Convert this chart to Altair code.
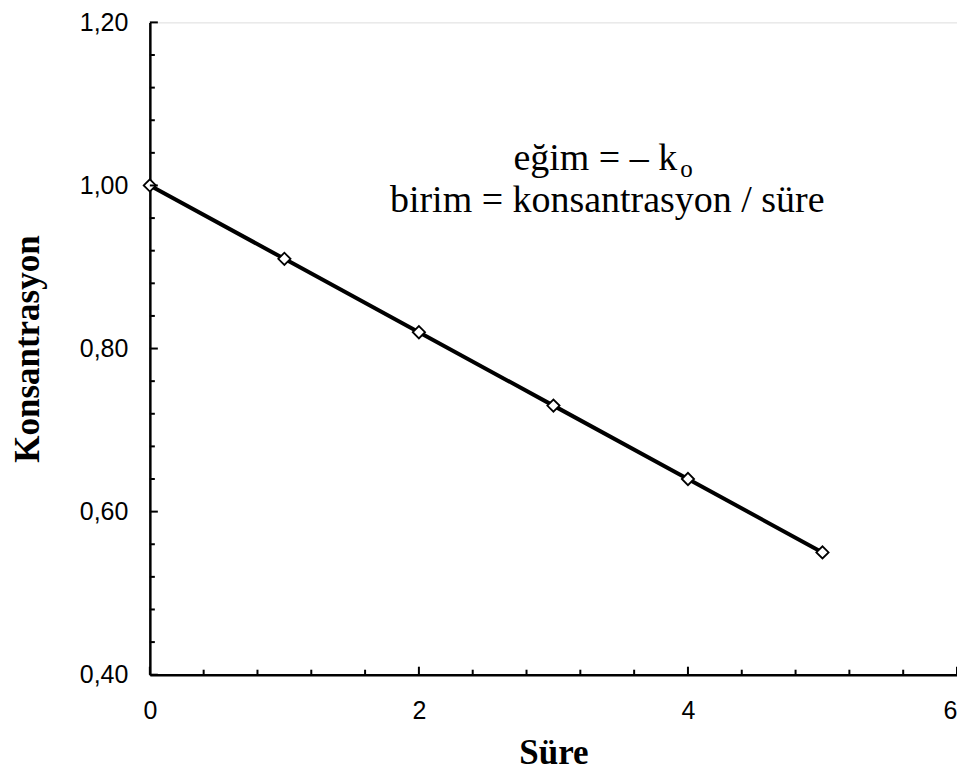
import altair as alt
import pandas as pd

# data
sure = [0, 1, 2, 3, 4, 5]
konsantrasyon = [1.00, 0.91, 0.82, 0.73, 0.64, 0.55]

x_major = [0, 2, 4, 6]
x_minor = [0.4, 0.8, 1.2, 1.6, 2.4, 2.8, 3.2, 3.6, 4.4, 4.8, 5.2, 5.6]
y_major = [0.40, 0.60, 0.80, 1.00, 1.20]
y_minor = [0.44, 0.48, 0.52, 0.56, 0.64, 0.68, 0.72, 0.76, 0.84, 0.88, 0.92, 0.96,
           1.04, 1.08, 1.12, 1.16]

ann_line1 = "eğim = – k"
ann_sub = "o"
ann_line2 = "birim = konsantrasyon / süre"
ann_x1, ann_y1 = 3.92, 1.0195
ann_x2, ann_y2 = 3.40, 0.968

df = pd.DataFrame({"t": sure, "c": konsantrasyon})

SERIF = "'Liberation Serif', 'Times New Roman', serif"
SANS = "'Liberation Sans', Arial, sans-serif"
W, H = 808, 653

xs = alt.Scale(domain=[0, 6], nice=False, zero=False)
ys = alt.Scale(domain=[0.4, 1.2], nice=False, zero=False)

lab_expr = "replace(format(datum.value, '.2f'), '.', ',')"

xaxis = alt.Axis(values=x_major, ticks=False, grid=False, domainColor="black",
                 domainWidth=2.5, labelFont=SANS, labelFontSize=25, labelFlush=False,
                 labelAlign={"condition": {"test": "datum.value >= 6", "value": "right"},
                             "value": "center"},
                 labelColor="black", labelPadding=24, labelExpr="format(datum.value, 'd')",
                 title="Süre",
                 titleFont=SERIF, titleFontSize=35, titleFontWeight="bold",
                 titleColor="black", titlePadding=12)
yaxis = alt.Axis(values=y_major, ticks=False, grid=False, domainColor="black",
                 domainWidth=2.5, labelFont=SANS, labelFontSize=25, labelFlush=False,
                 labelColor="black", labelPadding=22, labelExpr=lab_expr,
                 title="Konsantrasyon", titleFont=SERIF, titleFontSize=35,
                 titleFontWeight="bold", titleColor="black", titlePadding=34)

line = alt.Chart(df).mark_line(color="black", strokeWidth=4).encode(
    x=alt.X("t:Q", scale=xs, axis=xaxis),
    y=alt.Y("c:Q", scale=ys, axis=yaxis),
)
pts = alt.Chart(df).mark_point(shape="diamond", filled=True, fill="white",
                               stroke="black", strokeWidth=1.8, size=150,
                               opacity=1).encode(
    x=alt.X("t:Q", scale=xs), y=alt.Y("c:Q", scale=ys))

def xticks(vals, length):
    d = pd.DataFrame({"v": vals})
    return alt.Chart(d).mark_rule(color="black", strokeWidth=2).encode(
        x=alt.X("v:Q", scale=xs),
        y=alt.value(H), y2=alt.value(H - length))

def yticks(vals, length):
    d = pd.DataFrame({"v": vals})
    return alt.Chart(d).mark_rule(color="black", strokeWidth=2).encode(
        y=alt.Y("v:Q", scale=ys),
        x=alt.value(0), x2=alt.value(length))

ann = pd.DataFrame({"x": [ann_x1], "y": [ann_y1], "s": [ann_line1]})
ann_s = pd.DataFrame({"x": [ann_x1], "y": [ann_y1], "s": [ann_sub]})
ann2 = pd.DataFrame({"x": [ann_x2], "y": [ann_y2], "s": [ann_line2]})

t1 = alt.Chart(ann).mark_text(font=SERIF, fontSize=38, align="right",
                              baseline="alphabetic", color="black").encode(
    x=alt.X("x:Q", scale=xs), y=alt.Y("y:Q", scale=ys), text="s:N")
t1s = alt.Chart(ann_s).mark_text(font=SERIF, fontSize=25, align="left",
                                 baseline="alphabetic", dy=7, dx=3, color="black").encode(
    x=alt.X("x:Q", scale=xs), y=alt.Y("y:Q", scale=ys), text="s:N")
t2 = alt.Chart(ann2).mark_text(font=SERIF, fontSize=38, align="center",
                               baseline="alphabetic", color="black").encode(
    x=alt.X("x:Q", scale=xs), y=alt.Y("y:Q", scale=ys), text="s:N")

chart = alt.layer(
    line, pts,
    xticks(x_major, 8), xticks(x_minor, 5),
    yticks(y_major, 8), yticks(y_minor, 5),
    t1, t1s, t2,
).properties(
    width=W, height=H,
    autosize=alt.AutoSizeParams(type="none"),
    padding={"left": 142, "top": 14, "right": 0, "bottom": 100},
).configure_view(stroke="#888888", strokeWidth=2).configure(background="white")

chart.save("out.html", embed_options={"renderer": "svg", "actions": False})
